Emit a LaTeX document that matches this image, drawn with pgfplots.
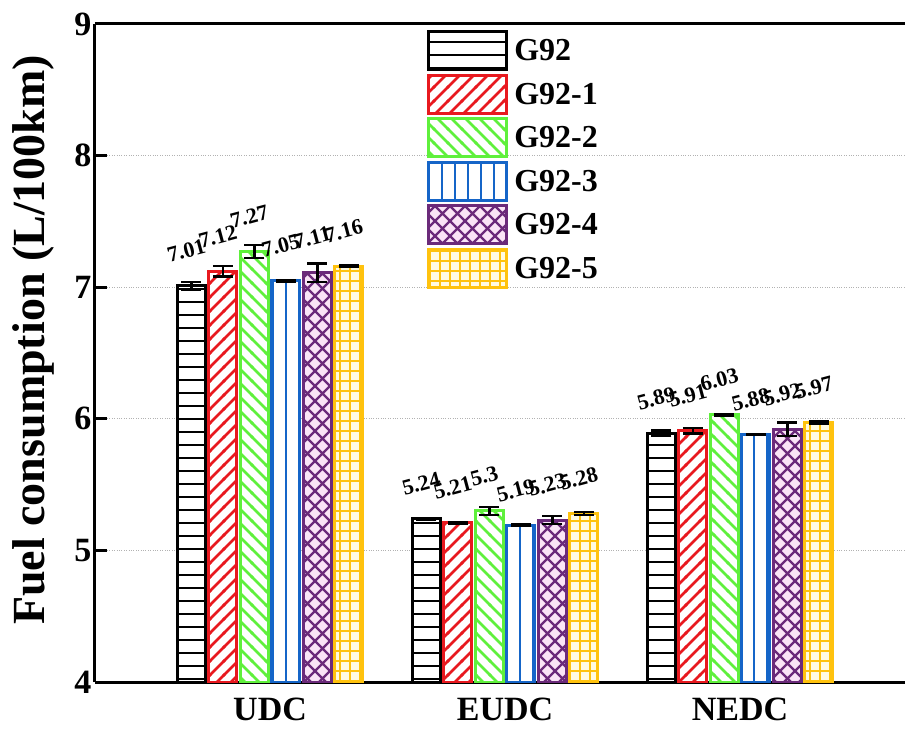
\documentclass[border=0pt]{standalone}
\usepackage{pgfplots}
\pgfplotsset{compat=1.18}
\usepackage{pgfplotstable}
\usepackage{fontspec}
\setmainfont{Liberation Serif}
\usetikzlibrary{patterns}
\definecolor{cred}{RGB}{232,25,31}
\definecolor{cgreen}{RGB}{95,240,60}
\definecolor{cblue}{RGB}{21,101,200}
\definecolor{cpurple}{RGB}{107,42,122}
\definecolor{cyellow}{RGB}{255,194,14}
\definecolor{cpink}{RGB}{250,228,246}
\definecolor{clyellow}{RGB}{255,250,225}

% custom thick patterns, lines overlap tile seams
\pgfdeclarepatternformonly{HL}{\pgfpoint{-1pt}{-2pt}}{\pgfpoint{14pt}{2pt}}{\pgfpoint{13pt}{13pt}}{%
  \pgfsetlinewidth{2.8pt}\pgfpathmoveto{\pgfpoint{-1pt}{0pt}}\pgfpathlineto{\pgfpoint{14pt}{0pt}}\pgfusepath{stroke}}
\pgfdeclarepatternformonly{VL}{\pgfpoint{-2pt}{-1pt}}{\pgfpoint{2pt}{14pt}}{\pgfpoint{13pt}{13pt}}{%
  \pgfsetlinewidth{2.8pt}\pgfpathmoveto{\pgfpoint{0pt}{-1pt}}\pgfpathlineto{\pgfpoint{0pt}{14pt}}\pgfusepath{stroke}}
\pgfdeclarepatternformonly{NE}{\pgfpoint{-2pt}{-2pt}}{\pgfpoint{16pt}{16pt}}{\pgfpoint{14pt}{14pt}}{%
  \pgfsetlinewidth{2.5pt}\pgfpathmoveto{\pgfpoint{-1pt}{-1pt}}\pgfpathlineto{\pgfpoint{15pt}{15pt}}\pgfusepath{stroke}}
\pgfdeclarepatternformonly{NW}{\pgfpoint{-2pt}{-2pt}}{\pgfpoint{16pt}{16pt}}{\pgfpoint{14pt}{14pt}}{%
  \pgfsetlinewidth{2.5pt}\pgfpathmoveto{\pgfpoint{-1pt}{15pt}}\pgfpathlineto{\pgfpoint{15pt}{-1pt}}\pgfusepath{stroke}}
\pgfdeclarepatternformonly{XH}{\pgfpoint{-2pt}{-2pt}}{\pgfpoint{17pt}{17pt}}{\pgfpoint{15pt}{15pt}}{%
  \pgfsetlinewidth{2.2pt}\pgfpathmoveto{\pgfpoint{-1pt}{-1pt}}\pgfpathlineto{\pgfpoint{16pt}{16pt}}%
  \pgfpathmoveto{\pgfpoint{-1pt}{16pt}}\pgfpathlineto{\pgfpoint{16pt}{-1pt}}\pgfusepath{stroke}}
\pgfdeclarepatternformonly{GR}{\pgfpoint{-2pt}{-2pt}}{\pgfpoint{11pt}{11pt}}{\pgfpoint{10pt}{10pt}}{%
  \pgfsetlinewidth{2.2pt}\pgfpathmoveto{\pgfpoint{-1pt}{0pt}}\pgfpathlineto{\pgfpoint{11pt}{0pt}}%
  \pgfpathmoveto{\pgfpoint{0pt}{-1pt}}\pgfpathlineto{\pgfpoint{0pt}{11pt}}\pgfusepath{stroke}}

\pgfplotstableread{
x y e
0 7.01 0.03
1 5.24 0.008
2 5.89 0.02
}\dA
\pgfplotstableread{
x y e
0 7.12 0.04
1 5.21 0.005
2 5.91 0.02
}\dB
\pgfplotstableread{
x y e
0 7.27 0.05
1 5.30 0.03
2 6.03 0.005
}\dC
\pgfplotstableread{
x y e
0 7.05 0.005
1 5.19 0.005
2 5.88 0.005
}\dD
\pgfplotstableread{
x y e
0 7.11 0.07
1 5.23 0.03
2 5.92 0.05
}\dE
\pgfplotstableread{
x y e
0 7.16 0.005
1 5.28 0.01
2 5.97 0.01
}\dF

\pgfplotsset{
  mylegend/.style={legend image code/.code={\draw[##1, line width=3pt] (0pt,-19pt) rectangle (78pt,19pt);}},
  eb/.style={error bars/.cd, y dir=both, y explicit,
    error bar style={line width=2.5pt, black},
    error mark options={rotate=90, mark size=10pt, line width=2.5pt, black}},
}

\begin{document}
\begin{tikzpicture}
\begin{axis}[
  name=ax,
  scale only axis, width=810pt, height=658pt,
  xmin=-0.745, xmax=2.702, ymin=4, ymax=9,
  ybar=3.5pt, bar width=28pt,
  xtick={0,1,2}, xticklabels={UDC,EUDC,NEDC},
  ytick={4,5,6,7,8,9},
  axis x line=box, axis y line=left,
  axis line style={line width=3pt,-},
  every outer x axis line/.append style={-},
  every outer y axis line/.append style={-},
  tick align=inside, major tick length=12pt,
  tick style={line width=3pt, black},
  xtick style={draw=none},
  ymajorgrids, grid style={dotted, line width=1.2pt, gray!60},
  /pgf/number format/assume math mode=true,
  tick label style={font=\fontsize{34}{40}\selectfont\bfseries},
  xticklabel style={yshift=-12pt},
  ylabel={Fuel consumption (L/100km)},
  ylabel style={font=\fontsize{46}{52}\selectfont\bfseries, at={(rel axis cs:-0.076,0.52)}, anchor=center},
  nodes near coords,
  every node near coord/.append style={font=\fontsize{22}{25}\selectfont\bfseries, anchor=center, yshift=35pt, xshift=-5pt, rotate=15, black},
  legend style={draw=none, fill=none, at={(rel axis cs:0.41,1)}, yshift=-6pt, anchor=north west,
    font=\fontsize{32}{36}\selectfont\bfseries, inner sep=0pt, nodes={inner sep=3pt}, row sep=2.5pt,
    /tikz/every odd column/.append style={column sep=3pt}},
  legend cell align=left,
]
\addplot[draw=black, line width=3pt, fill=white, postaction={pattern=HL, pattern color=black}, mylegend, eb] table[x=x,y=y,y error=e]{\dA};
\addplot[draw=cred, line width=3pt, fill=white, postaction={pattern=NE, pattern color=cred}, mylegend, eb] table[x=x,y=y,y error=e]{\dB};
\addplot[draw=cgreen, line width=3pt, fill=white, postaction={pattern=NW, pattern color=cgreen}, mylegend, eb] table[x=x,y=y,y error=e]{\dC};
\addplot[draw=cblue, line width=3pt, fill=white, postaction={pattern=VL, pattern color=cblue}, mylegend, eb] table[x=x,y=y,y error=e]{\dD};
\addplot[draw=cpurple, line width=3pt, fill=cpink, postaction={pattern=XH, pattern color=cpurple}, mylegend, eb] table[x=x,y=y,y error=e]{\dE};
\addplot[draw=cyellow, line width=3pt, fill=clyellow, postaction={pattern=GR, pattern color=cyellow}, mylegend, eb] table[x=x,y=y,y error=e]{\dF};
\legend{G92,G92-1,G92-2,G92-3,G92-4,G92-5}
\end{axis}
\pgfresetboundingbox
\path[use as bounding box] ([xshift=-95pt,yshift=-49pt]ax.south west) rectangle ([yshift=24pt]ax.north east);
\end{tikzpicture}
\end{document}
